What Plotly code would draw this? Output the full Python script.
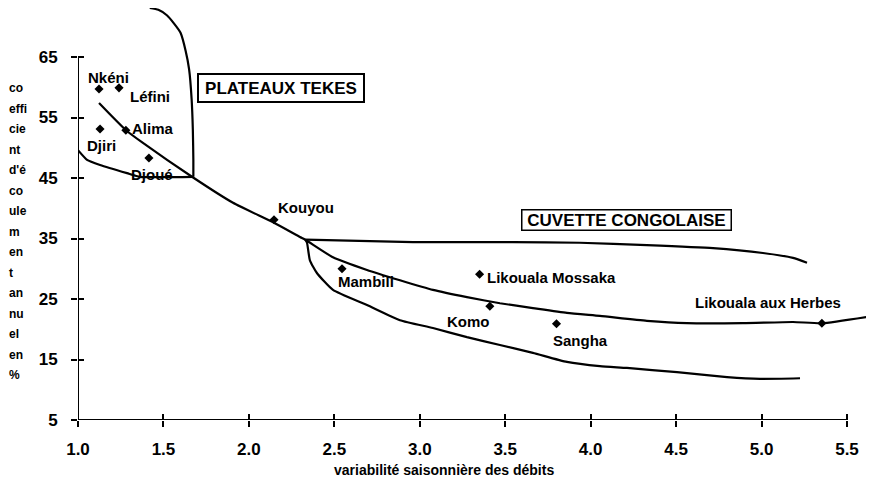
import plotly.graph_objects as go

# ---- data ----
stations = ["Nkéni", "Léfini", "Djiri", "Alima", "Djoué", "Kouyou", "Mambili",
            "Likouala Mossaka", "Komo", "Sangha", "Likouala aux Herbes"]
variabilite = [1.123, 1.24, 1.129, 1.28, 1.415, 2.147, 2.545, 3.35, 3.41, 3.80, 5.353]
coefficient = [59.7, 59.9, 53.1, 52.9, 48.3, 38.1, 30.0, 29.1, 23.8, 20.9, 21.0]

# main trend curve
trend_x = [1.123, 1.281, 1.380, 1.667, 1.907, 2.147, 2.299, 2.33, 2.492, 2.691, 2.884,
           3.077, 3.276, 3.469, 3.662, 3.861, 4.054, 4.329, 4.563, 4.891, 5.184, 5.353, 5.652]
trend_y = [57.4, 52.9, 50.8, 45.2, 40.9, 37.6, 35.25, 34.8, 31.9, 29.8, 28.1,
           26.5, 25.3, 24.3, 23.5, 22.7, 22.2, 21.4, 21.0, 21.0, 21.2, 21.0, 22.2]

# Plateaux Tékés envelope: upper-right boundary
plat_upper_x = [1.42, 1.47, 1.52, 1.56, 1.60, 1.63, 1.65, 1.665, 1.672, 1.675, 1.675]
plat_upper_y = [73.1, 72.8, 71.9, 70.6, 69.0, 66.0, 63.0, 58.0, 53.0, 48.0, 45.2]
# Plateaux Tékés envelope: lower-left boundary
plat_lower_x = [1.0, 1.053, 1.129, 1.287, 1.363, 1.675]
plat_lower_y = [49.6, 48.0, 47.15, 45.8, 45.2, 45.2]

# Cuvette congolaise envelope: upper boundary
cuv_upper_x = [2.33, 2.96, 3.545, 3.937, 4.329, 4.716, 5.008, 5.184, 5.266]
cuv_upper_y = [34.8, 34.4, 34.4, 34.3, 33.9, 33.4, 32.6, 31.8, 31.0]
# Cuvette congolaise envelope: lower boundary
cuv_lower_x = [2.33, 2.340, 2.357, 2.398, 2.492, 2.691, 2.884, 3.077, 3.276, 3.469,
               3.662, 3.861, 4.054, 4.212, 4.505, 4.798, 4.991, 5.225]
cuv_lower_y = [34.8, 34.3, 31.4, 29.3, 26.5, 24.0, 21.5, 20.2, 18.7, 17.4,
               16.1, 14.6, 13.9, 13.6, 12.9, 12.1, 11.8, 11.9]

x_ticks = [1.0, 1.5, 2.0, 2.5, 3.0, 3.5, 4.0, 4.5, 5.0, 5.5]
y_ticks = [5, 15, 25, 35, 45, 55, 65]

y_title_parts = ["co", "effi", "cie", "nt", "d'é", "co", "ule", "m", "en", "t",
                 "an", "nu", "el", "en", "%"]
x_title = "variabilité saisonnière des débits"
region_labels = ["PLATEAUX TEKES", "CUVETTE CONGOLAISE"]

# ---- styling / layout constants ----
FONT = "Liberation Sans, Arial, sans-serif"
label_offsets = [(9, -12), (31, 9), (1, 16), (27, -2), (3, 16), (32, -12),
                 (24, 13), (72, 3), (-21, 15), (24, 17), (-54, -21)]
# the page body has an 8px margin; the figure is sized/offset to compensate
OFF = 8
FIG_W, FIG_H = 874 - OFF, 496 - OFF
PLOT_LEFT, PLOT_RIGHT, PLOT_TOP, PLOT_BOTTOM = 78, 874, 8, 420   # page pixels
X_RANGE = [1.0, 5.658]
Y_RANGE = [5.0, 73.1]
PLOT_W = PLOT_RIGHT - PLOT_LEFT
PLOT_H = PLOT_BOTTOM - PLOT_TOP

fig = go.Figure()

line_style = dict(color="black", width=2.2)
for xs, ys in [(trend_x, trend_y), (plat_upper_x, plat_upper_y), (plat_lower_x, plat_lower_y),
               (cuv_upper_x, cuv_upper_y), (cuv_lower_x, cuv_lower_y)]:
    fig.add_trace(go.Scatter(x=xs, y=ys, mode="lines",
                             line=dict(shape="spline", smoothing=0.5, **line_style),
                             hoverinfo="skip", showlegend=False))

fig.add_trace(go.Scatter(x=variabilite, y=coefficient, mode="markers", text=stations,
                         marker=dict(symbol="diamond", size=7, color="black"),
                         showlegend=False, cliponaxis=False))

annotations = []
for name, xv, yv, (dx, dy) in zip(stations, variabilite, coefficient, label_offsets):
    annotations.append(dict(x=xv, y=yv, xref="x", yref="y", text=name, showarrow=False,
                            xshift=dx, yshift=-dy, xanchor="center", yanchor="middle",
                            font=dict(family=FONT, size=15, color="black", weight="bold")))


def px_to_paper(px, py):
    return (px - PLOT_LEFT) / PLOT_W, 1 - (py - PLOT_TOP) / PLOT_H


bx, by = px_to_paper(281, 88)
annotations.append(dict(x=bx, y=by, xref="paper", yref="paper", text=region_labels[0], showarrow=False,
                        xanchor="center", yanchor="middle", width=162, height=24, borderpad=1,
                        bordercolor="black", borderwidth=2, bgcolor="white",
                        font=dict(family=FONT, size=17, color="black", weight="bold")))
bx, by = px_to_paper(626, 219.5)
annotations.append(dict(x=bx, y=by, xref="paper", yref="paper", text=region_labels[1], showarrow=False,
                        xanchor="center", yanchor="middle", width=206, height=17, borderpad=1,
                        bordercolor="black", borderwidth=1.5, bgcolor="white",
                        font=dict(family=FONT, size=17, color="black", weight="bold")))

# vertical, broken-up y-axis title
for i, part in enumerate(y_title_parts):
    tx, ty = px_to_paper(7, 88 + 20.5 * i)
    annotations.append(dict(x=tx, y=ty, xref="paper", yref="paper", text=part,
                            showarrow=False, xanchor="left", yanchor="middle",
                            font=dict(family=FONT, size=12, color="black", weight="bold")))

# x-axis title
tx, ty = px_to_paper(444, 470)
annotations.append(dict(x=tx, y=ty, xref="paper", yref="paper",
                        text=x_title, showarrow=False, xanchor="center", yanchor="middle",
                        font=dict(family=FONT, size=14, color="black", weight="bold")))

shapes = [
    dict(type="line", xref="x", yref="y", x0=1.0, x1=5.5, y0=5, y1=5, line=dict(color="black", width=2)),
    dict(type="line", xref="x", yref="y", x0=1.0, x1=1.0, y0=5, y1=65, line=dict(color="black", width=2)),
]

tickfont = dict(family=FONT, size=17, color="black", weight="bold")
common_x = dict(range=X_RANGE, tickvals=x_ticks, showgrid=False, zeroline=False, showline=False,
                ticklen=6, tickwidth=1.5, tickcolor="black")
common_y = dict(range=Y_RANGE, tickvals=y_ticks, showgrid=False, zeroline=False, showline=False,
                ticklen=6, tickwidth=1.5, tickcolor="black")

fig.update_layout(
    width=FIG_W, height=FIG_H,
    margin=dict(l=PLOT_LEFT - OFF, r=874 - PLOT_RIGHT, t=PLOT_TOP - OFF, b=496 - PLOT_BOTTOM, pad=0),
    paper_bgcolor="white", plot_bgcolor="white",
    xaxis=dict(ticks="outside", tickformat=".1f", tickfont=tickfont, ticklabelstandoff=8, **common_x),
    yaxis=dict(ticks="outside", tickfont=tickfont, ticklabelstandoff=10, **common_y),
    xaxis2=dict(overlaying="x", ticks="inside", showticklabels=False, **common_x),
    yaxis2=dict(overlaying="y", ticks="inside", showticklabels=False, **common_y),
    annotations=annotations, shapes=shapes,
    showlegend=False,
)
# dummy trace to activate overlay axes
fig.add_trace(go.Scatter(x=[None], y=[None], xaxis="x2", yaxis="y2", showlegend=False, hoverinfo="skip"))

fig.write_html("out.html")
